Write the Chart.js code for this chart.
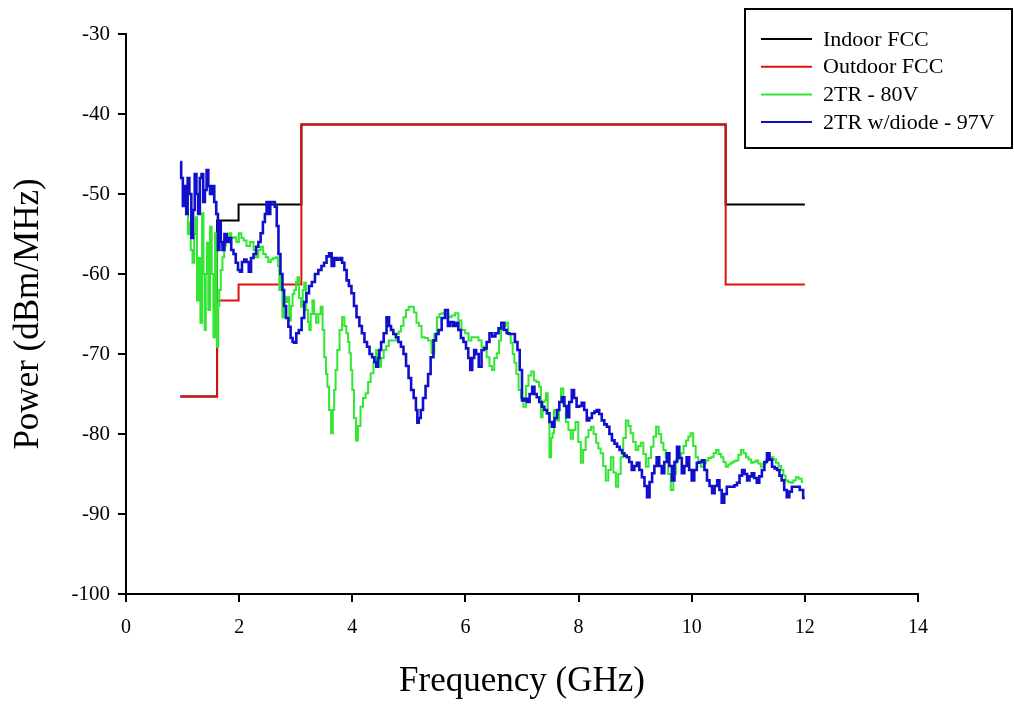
<!DOCTYPE html>
<html>
<head>
<meta charset="utf-8">
<script src="https://cdn.jsdelivr.net/npm/chart.js@4.4.1/dist/chart.umd.min.js"></script>
<style>
  html, body { margin: 0; padding: 0; background: #fff; }
</style>
</head>
<body>
<canvas id="psdChart" width="1014" height="705"></canvas>
<script>
// FCC UWB emission masks (GHz, dBm/MHz)
const maskX = [0.96, 1.61, 1.61, 1.99, 1.99, 3.1, 3.1, 10.6, 10.6, 12];
const indoorY = [-75.3, -75.3, -53.3, -53.3, -51.3, -51.3, -41.3, -41.3, -51.3, -51.3];
const outdoorY = [-75.3, -75.3, -63.3, -63.3, -61.3, -61.3, -41.3, -41.3, -61.3, -61.3];

// measured spectrum, 2TR pulser at 80 V
const tr80X = [1.06, 1.08, 1.11, 1.13, 1.16, 1.19, 1.22, 1.24, 1.27, 1.30, 1.33, 1.36, 1.38, 1.40, 1.42, 1.44, 1.47, 1.50, 1.53, 1.56,
  1.59, 1.62, 1.64, 1.66, 1.69, 1.72, 1.75, 1.78, 1.81, 1.84, 1.88, 1.93, 1.97, 2.02, 2.06, 2.10, 2.16, 2.23, 2.28, 2.32,
  2.36, 2.40, 2.45, 2.49, 2.54, 2.58, 2.63, 2.67, 2.70, 2.72, 2.75, 2.78, 2.81, 2.84, 2.87, 2.90, 2.93, 2.96, 2.99, 3.02,
  3.04, 3.08, 3.11, 3.14, 3.16, 3.20, 3.23, 3.25, 3.28, 3.31, 3.34, 3.38, 3.42, 3.46, 3.49, 3.52, 3.55, 3.57, 3.61, 3.64,
  3.67, 3.69, 3.72, 3.75, 3.80, 3.84, 3.88, 3.91, 3.94, 3.96, 3.99, 4.01, 4.05, 4.08, 4.12, 4.17, 4.21, 4.26, 4.30, 4.35,
  4.40, 4.44, 4.47, 4.49, 4.53, 4.58, 4.62, 4.67, 4.72, 4.76, 4.80, 4.84, 4.88, 4.93, 4.97, 5.02, 5.07, 5.11, 5.16, 5.20,
  5.25, 5.31, 5.37, 5.43, 5.47, 5.52, 5.56, 5.60, 5.67, 5.73, 5.78, 5.85, 5.90, 5.96, 6.03, 6.08, 6.13, 6.20, 6.26, 6.31,
  6.35, 6.40, 6.45, 6.49, 6.53, 6.58, 6.61, 6.65, 6.69, 6.73, 6.78, 6.82, 6.85, 6.88, 6.92, 6.96, 7.00, 7.05, 7.09, 7.14,
  7.19, 7.23, 7.28, 7.32, 7.35, 7.38, 7.41, 7.44, 7.47, 7.50, 7.53, 7.55, 7.58, 7.64, 7.67, 7.71, 7.75, 7.80, 7.84, 7.88,
  7.92, 7.97, 8.02, 8.06, 8.10, 8.15, 8.20, 8.24, 8.29, 8.33, 8.37, 8.41, 8.46, 8.50, 8.55, 8.59, 8.64, 8.68, 8.72, 8.77,
  8.81, 8.86, 8.90, 8.94, 8.99, 9.03, 9.08, 9.12, 9.17, 9.21, 9.26, 9.30, 9.35, 9.39, 9.44, 9.48, 9.52, 9.56, 9.61, 9.65,
  9.70, 9.74, 9.79, 9.83, 9.88, 9.92, 9.96, 10.00, 10.05, 10.09, 10.14, 10.18, 10.23, 10.27, 10.32, 10.36, 10.41, 10.45, 10.50, 10.54,
  10.58, 10.62, 10.67, 10.71, 10.76, 10.80, 10.85, 10.89, 10.94, 10.98, 11.03, 11.07, 11.11, 11.15, 11.20, 11.24, 11.29, 11.33, 11.38, 11.42,
  11.47, 11.51, 11.56, 11.60, 11.64, 11.68, 11.73, 11.77, 11.82, 11.86, 11.92, 11.97];
const tr80Y = [-51, -52, -55, -53.6, -57, -58.6, -55, -52.9, -63.3, -58, -66.1, -52.4, -60, -67, -60, -56.1, -64.5, -54.1, -60, -67.9,
  -54.9, -69.1, -64, -62, -59.5, -57.9, -56.5, -55.4, -56, -54.9, -55.5, -55.4, -56, -54.9, -55.5, -55.8, -56.5, -56, -57, -57.9,
  -57, -56.6, -57.5, -57.9, -58.5, -58.2, -58, -57.9, -59, -62, -60, -65.4, -62.9, -63.5, -62.9, -65.8, -64, -62.5, -62, -61,
  -60.4, -63, -64.1, -62, -61.1, -64.5, -66, -67, -65, -63.3, -65, -66.1, -65, -64.1, -67, -70.4, -72.5, -74.1, -77, -79.9,
  -77, -74.5, -72, -69.5, -67, -65.4, -66.5, -67.4, -68.5, -69.9, -72, -74.5, -78, -80.8, -79, -76.6, -75.5, -74.9, -73.5, -72.4,
  -71, -69.5, -70.5, -71.6, -70.5, -69.5, -69, -68.3, -68.3, -68.3, -67.5, -67.2, -66.5, -65.4, -64.5, -64.1, -64.1, -64.8, -66.1, -66.5,
  -67.9, -68, -68.3, -69.9, -67.5, -65.4, -65, -64.9, -65, -65.4, -65.2, -64.9, -65.8, -67, -67.4, -68.3, -67.9, -67.9, -68.3, -69.1,
  -69.5, -70.4, -71.5, -72, -70.5, -69.9, -68.3, -67, -66.5, -66.1, -67.5, -68.6, -70, -71.1, -72.5, -74.5, -75.5, -76.6, -74, -72.7,
  -72.2, -73.3, -73.5, -74.1, -77.9, -76, -75.8, -74.9, -77.5, -82.9, -80.5, -79.9, -77, -78.3, -76, -74.3, -76.5, -78.5, -79.5, -80.6,
  -79.5, -78.5, -81, -83.6, -82, -80.4, -79.5, -79.1, -80, -81.1, -81.8, -82.4, -84, -85.8, -84.5, -82.9, -84.8, -86.6, -85, -82.9,
  -80.5, -78.3, -79, -79.9, -81, -82, -81.5, -81.1, -82.5, -84.1, -83, -81.6, -80.3, -79.1, -80, -81.1, -82, -82.9, -85, -87,
  -85, -83.3, -82.8, -82.4, -81.5, -80.8, -80.3, -79.9, -81.5, -82.9, -83.5, -84.1, -83.7, -83.3, -83, -82.9, -82.4, -82, -82.5, -82.9,
  -83.5, -84.1, -83.8, -83.6, -83.4, -83.3, -82.6, -82, -82.4, -82.9, -83.2, -83.6, -83.5, -83.3, -83.7, -84.1, -83.7, -83.3, -83.1, -82.9,
  -83.2, -83.6, -84, -84.5, -85.2, -85.8, -86, -86.1, -85.8, -85.4, -85.6, -86];

// measured spectrum, 2TR pulser with diode at 97 V
const diodeX = [0.96, 0.99, 1.02, 1.05, 1.08, 1.10, 1.14, 1.17, 1.20, 1.23, 1.26, 1.29, 1.32, 1.35, 1.38, 1.41, 1.44, 1.47, 1.50, 1.54,
  1.58, 1.61, 1.64, 1.66, 1.69, 1.72, 1.76, 1.80, 1.84, 1.88, 1.92, 1.96, 2.00, 2.03, 2.07, 2.11, 2.15, 2.19, 2.23, 2.28,
  2.32, 2.36, 2.40, 2.44, 2.47, 2.50, 2.53, 2.57, 2.61, 2.65, 2.68, 2.71, 2.75, 2.78, 2.81, 2.85, 2.89, 2.93, 2.96, 2.99,
  3.03, 3.08, 3.13, 3.17, 3.21, 3.26, 3.31, 3.37, 3.43, 3.48, 3.52, 3.57, 3.61, 3.66, 3.70, 3.75, 3.80, 3.84, 3.88, 3.92,
  3.96, 4.01, 4.05, 4.10, 4.15, 4.19, 4.24, 4.28, 4.33, 4.37, 4.41, 4.44, 4.47, 4.49, 4.53, 4.58, 4.63, 4.67, 4.70, 4.75,
  4.79, 4.84, 4.88, 4.93, 4.97, 5.02, 5.06, 5.11, 5.14, 5.16, 5.19, 5.23, 5.27, 5.32, 5.36, 5.41, 5.46, 5.50, 5.55, 5.61,
  5.67, 5.71, 5.76, 5.81, 5.85, 5.90, 5.94, 5.99, 6.03, 6.07, 6.10, 6.14, 6.17, 6.21, 6.26, 6.31, 6.35, 6.40, 6.45, 6.50,
  6.56, 6.61, 6.66, 6.71, 6.75, 6.80, 6.85, 6.90, 6.94, 6.98, 7.02, 7.07, 7.11, 7.16, 7.20, 7.24, 7.28, 7.33, 7.37, 7.42,
  7.46, 7.51, 7.55, 7.60, 7.64, 7.68, 7.73, 7.77, 7.81, 7.86, 7.90, 7.94, 7.99, 8.03, 8.08, 8.12, 8.17, 8.21, 8.26, 8.30,
  8.34, 8.39, 8.43, 8.48, 8.52, 8.57, 8.61, 8.66, 8.70, 8.75, 8.79, 8.83, 8.87, 8.92, 8.96, 9.01, 9.05, 9.10, 9.14, 9.19,
  9.23, 9.28, 9.32, 9.36, 9.40, 9.45, 9.49, 9.54, 9.58, 9.63, 9.67, 9.72, 9.76, 9.80, 9.85, 9.89, 9.93, 9.98, 10.02, 10.07,
  10.11, 10.16, 10.20, 10.25, 10.29, 10.34, 10.38, 10.43, 10.47, 10.51, 10.55, 10.60, 10.64, 10.69, 10.73, 10.78, 10.82, 10.87, 10.91, 10.96,
  11.00, 11.04, 11.08, 11.13, 11.17, 11.22, 11.26, 11.31, 11.35, 11.40, 11.44, 11.49, 11.53, 11.57, 11.61, 11.66, 11.70, 11.75, 11.79, 11.84,
  11.88, 11.94, 12.00];
const diodeY = [-46, -48, -51.5, -49, -52.5, -48, -50, -55.5, -52, -47.5, -50, -52.5, -48, -47.5, -51, -49.5, -47, -49, -50, -49,
  -51, -52.5, -57, -53.5, -56, -57, -55, -56, -55.5, -57, -57.5, -58.6, -59.5, -59.7, -58.5, -58.2, -58.5, -59.7, -58, -57.5,
  -56.6, -56, -54.9, -53.5, -52.5, -51, -52.5, -51, -51, -51.6, -54, -57.5, -60, -62, -64, -65.5, -66.6, -68, -68.5, -68.6,
  -67.4, -67, -65.5, -63.5, -62.4, -61.5, -61, -60, -59.5, -59, -58.6, -57.8, -57.4, -59, -58, -58.2, -58, -58.6, -59.5, -60.8,
  -61.5, -62.4, -64, -65.4, -66.5, -67.4, -68.5, -69.1, -70, -70.4, -71, -71.6, -70.5, -69.5, -68.5, -67.4, -65.4, -66.5, -67, -67.5,
  -67.9, -68.5, -69.1, -70, -71.5, -73, -74.5, -75.5, -77, -78.6, -78, -77, -75.5, -74, -72.5, -70.4, -68.3, -67.5, -67, -65.5,
  -64.5, -66.5, -66, -66.5, -66.1, -67, -68, -68.5, -69.3, -70.5, -72, -70.5, -69.5, -70, -71.6, -69.5, -69.3, -68.5, -67.4, -67.8,
  -67.4, -66.8, -66.1, -67, -67.4, -67.5, -67.5, -68.5, -69.5, -72, -75.8, -75.6, -76, -75, -74.1, -75, -75.4, -76, -76.6, -77,
  -77.4, -78.5, -79.1, -78, -77, -76, -75.4, -76.5, -77.9, -76, -74.5, -75.5, -76.6, -76.5, -76.1, -77, -78.3, -78, -77.4, -77.2,
  -77, -77.5, -78.3, -78.8, -79.1, -80, -80.8, -81.2, -81.6, -82, -82.4, -82.7, -82.9, -83.5, -84.5, -84, -83.6, -84.5, -85.4, -86.5,
  -87.9, -86, -84.9, -84, -82.9, -84, -84.9, -83.5, -82.4, -84, -85.8, -83.5, -81.6, -83, -84.9, -84, -82.9, -84.5, -85.8, -84.5,
  -83.6, -83.5, -83.3, -84.5, -85.8, -86.5, -87.4, -86.5, -85.8, -87, -88.6, -87.5, -86.6, -86.6, -86.6, -86.4, -86.1, -85.2, -84.5, -85,
  -85.8, -85.3, -84.9, -85.5, -86.1, -85.3, -84.5, -83.5, -82.4, -83.2, -84.1, -84.3, -84.5, -85.2, -85.8, -87, -87.9, -87.2, -86.6, -86.6,
  -86.6, -87, -88];

const xTicks = { min: 0, max: 14, step: 2 };
const yTicks = { min: -100, max: -30, step: 10 };

const serif = "'Liberation Serif', 'Times New Roman', serif";

function toPoints(xs, ys) {
  return xs.map((x, i) => ({ x: x, y: ys[i] }));
}

// boxed legend in the upper right corner
const legendBox = {
  id: 'legendBox',
  afterDraw(chart) {
    const ctx = chart.ctx;
    ctx.save();
    ctx.fillStyle = '#fff';
    ctx.strokeStyle = '#000';
    ctx.lineWidth = 2;
    ctx.fillRect(745, 9, 267, 139);
    ctx.strokeRect(745, 9, 267, 139);
    ctx.font = '22px ' + serif;
    ctx.textBaseline = 'middle';
    chart.data.datasets.forEach((ds, i) => {
      const y = 39 + i * 27.7;
      ctx.strokeStyle = ds.borderColor;
      ctx.lineWidth = 2;
      ctx.beginPath();
      ctx.moveTo(761, y);
      ctx.lineTo(812, y);
      ctx.stroke();
      ctx.fillStyle = '#000';
      ctx.fillText(ds.label, 823, y + 1);
    });
    ctx.restore();
  }
};

const lineStyle = { pointRadius: 0, fill: false, tension: 0, spanGaps: true };

new Chart(document.getElementById('psdChart').getContext('2d'), {
  type: 'line',
  data: {
    datasets: [
      { ...lineStyle, label: 'Indoor FCC', data: toPoints(maskX, indoorY), borderColor: '#000000', borderWidth: 2, order: 4 },
      { ...lineStyle, label: 'Outdoor FCC', data: toPoints(maskX, outdoorY), borderColor: '#e01010', borderWidth: 2, order: 3 },
      { ...lineStyle, label: '2TR - 80V', data: toPoints(tr80X, tr80Y), borderColor: '#33e633', borderWidth: 2, stepped: 'middle', order: 2 },
      { ...lineStyle, label: '2TR w/diode - 97V', data: toPoints(diodeX, diodeY), borderColor: '#1010cc', borderWidth: 2.6, stepped: 'middle', order: 1 }
    ]
  },
  options: {
    responsive: false,
    animation: false,
    layout: { padding: { top: 34, right: 96, left: 0, bottom: 0 } },
    plugins: { legend: { display: false }, tooltip: { enabled: false } },
    scales: {
      x: {
        type: 'linear',
        min: xTicks.min,
        max: xTicks.max,
        afterFit: s => { s.height = 111; },
        ticks: { stepSize: xTicks.step, color: '#000', font: { family: serif, size: 20 }, padding: 14 },
        grid: { drawOnChartArea: false, drawTicks: true, tickLength: 8, color: '#000', lineWidth: 2 },
        border: { color: '#000', width: 2 },
        title: { display: true, text: 'Frequency (GHz)', color: '#000', font: { family: serif, size: 35 }, padding: { top: 0, bottom: 2 } }
      },
      y: {
        min: yTicks.min,
        max: yTicks.max,
        afterFit: s => { s.width = 126; },
        ticks: { stepSize: yTicks.step, color: '#000', font: { family: serif, size: 21 }, padding: 8 },
        grid: { drawOnChartArea: false, drawTicks: true, tickLength: 8, color: '#000', lineWidth: 2 },
        border: { color: '#000', width: 2 },
        title: { display: true, text: 'Power (dBm/MHz)', color: '#000', font: { family: serif, size: 35 }, padding: { top: 8, bottom: 0 } }
      }
    }
  },
  plugins: [legendBox]
});
</script>
</body>
</html>
